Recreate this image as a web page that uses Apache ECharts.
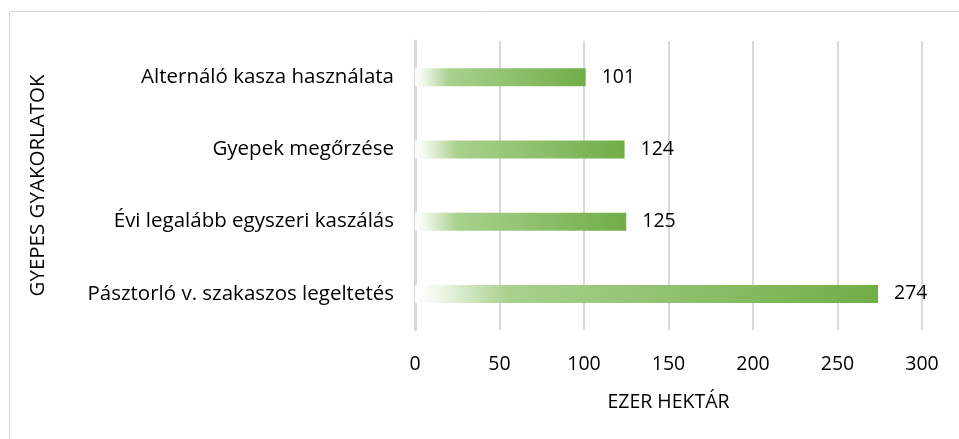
<!DOCTYPE html>
<html><head><meta charset="utf-8">
<script src="https://cdn.jsdelivr.net/npm/echarts@6/dist/echarts.min.js"></script>
<style>html,body{margin:0;padding:0;background:#fff}#c{width:959px;height:439px}</style>
</head><body><div id="c"></div>
<script>
var categories = ["Pásztorló v. szakaszos legeltetés", "Évi legalább egyszeri kaszálás", "Gyepek megőrzése", "Alternáló kasza használata"];
var values = [274, 125, 124, 101];
var xTicks = [0, 50, 100, 150, 200, 250, 300];
var FONT = "'Open Sans', 'Noto Sans', sans-serif";
var FS = 20.5;
var chart = echarts.init(document.getElementById('c'), null, {renderer: 'canvas'});
chart.setOption({
  animation: false,
  graphic: [{type: 'rect', shape: {x: 9.5, y: 11.5, width: 960, height: 440}, style: {fill: 'none', stroke: '#d9d9d9', lineWidth: 1}}],
  grid: {left: 415, right: 37, top: 41, bottom: 109, containLabel: false},
  xAxis: {
    type: 'value', min: xTicks[0], max: xTicks[xTicks.length - 1], interval: 50,
    name: 'EZER HEKTÁR', nameLocation: 'middle', nameGap: 62,
    nameTextStyle: {fontFamily: FONT, fontSize: FS - 1, color: '#000'},
    axisLine: {show: false}, axisTick: {show: false},
    axisLabel: {fontFamily: FONT, fontSize: FS - 1, color: '#000', margin: 24},
    splitLine: {show: true, lineStyle: {color: '#d9d9d9', width: 2}}
  },
  yAxis: {
    type: 'category', data: categories,
    name: 'GYEPES GYAKORLATOK', nameLocation: 'middle', nameGap: 366, nameRotate: 90,
    nameTextStyle: {fontFamily: FONT, fontSize: FS, color: '#000'},
    axisLine: {show: true, lineStyle: {color: '#d9d9d9', width: 3}},
    axisTick: {show: false},
    axisLabel: {fontFamily: FONT, fontSize: FS, color: '#000', margin: 21}
  },
  series: [{
    type: 'bar', data: values, barWidth: 18,
    itemStyle: {color: new echarts.graphic.LinearGradient(0, 0, 1, 0, [
      {offset: 0, color: 'rgba(255,255,255,0.9)'},
      {offset: 0.05, color: 'rgba(240,247,235,1)'},
      {offset: 0.2, color: '#a9d18e'},
      {offset: 1, color: '#70ad47'}
    ])},
    label: {show: true, position: 'right', distance: 16, fontFamily: FONT, fontSize: FS - 1, color: '#000'}
  }]
});
</script></body></html>
